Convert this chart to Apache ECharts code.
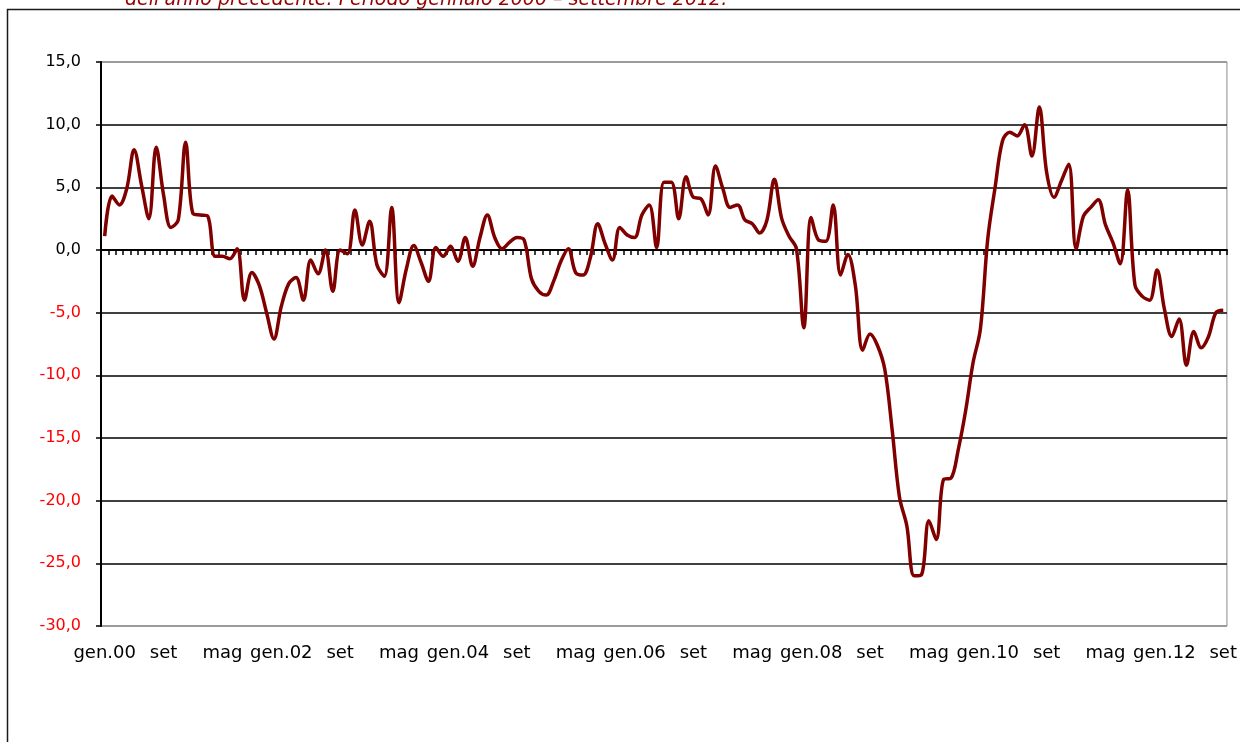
<!DOCTYPE html>
<html>
<head>
<meta charset="utf-8">
<script src="https://cdn.jsdelivr.net/npm/echarts@6/dist/echarts.min.js"></script>
<style>
  html, body { margin: 0; padding: 0; background: #fff; }
  #chart { width: 1240px; height: 742px; }
</style>
</head>
<body>
<div id="chart"></div>
<script>
// mesi ed anni per le etichette dell'asse
const months = ['gen', 'feb', 'mar', 'apr', 'mag', 'giu', 'lug', 'ago', 'set', 'ott', 'nov', 'dic']
const years = ['00', '01', '02', '03', '04', '05', '06', '07', '08', '09', '10', '11', '12']

// variazioni % sullo stesso mese dell'anno precedente
const v2000 = [1.1, 4.3, 3.6, 4.9, 8.0, 5.2, 2.5, 8.2, 4.4, 1.8, 2.4, 8.6]
const v2001 = [2.9, 2.8, 2.7, -0.5, -0.5, -0.7, 0.1, -4.0, -1.8, -2.8, -5.0, -7.1]
const v2002 = [-4.5, -2.7, -2.2, -4.0, -0.8, -1.9, 0.0, -3.3, 0.0, -0.3, 3.2, 0.4]
const v2003 = [2.3, -1.2, -2.1, 3.4, -4.2, -1.5, 0.35, -1.0, -2.5, 0.2, -0.5, 0.3]
const v2004 = [-0.9, 1.0, -1.3, 1.0, 2.8, 1.0, 0.1, 0.6, 1.0, 0.8, -2.3, -3.3]
const v2005 = [-3.6, -2.5, -0.9, 0.1, -1.8, -2.0, -0.6, 2.1, 0.5, -0.8, 1.8, 1.2]
const v2006 = [1.0, 2.8, 3.6, 0.2, 5.4, 5.4, 2.5, 5.85, 4.2, 4.1, 2.8, 6.7]
const v2007 = [4.9, 3.4, 3.6, 2.4, 2.1, 1.35, 2.4, 5.65, 2.5, 1.1, 0.1, -6.2]
const v2008 = [2.6, 0.8, 0.7, 3.6, -2.0, -0.35, -2.8, -8.0, -6.7, -7.6, -9.5, -14.3]
const v2009 = [-19.7, -22.0, -26.0, -25.9, -21.6, -23.1, -18.3, -18.2, -15.9, -12.8, -9.0, -6.3]
const v2010 = [0.9, 5.0, 8.7, 9.4, 9.1, 10.0, 7.5, 11.4, 6.2, 4.2, 5.5, 6.85]
const v2011 = [0.1, 2.7, 3.4, 4.0, 2.0, 0.6, -1.1, 4.8, -2.8, -3.7, -4.0, -1.6]
const v2012 = [-4.7, -6.9, -5.5, -9.2, -6.5, -7.8, -6.9, -5.0, -4.8]

const values = [].concat(v2000, v2001, v2002, v2003, v2004, v2005, v2006,
  v2007, v2008, v2009, v2010, v2011, v2012)

// gen.00, feb, mar ... set (2012)
const categories = []
years.forEach(y => {
  months.forEach(m => {
    if (categories.length < values.length) {
      categories.push(m === 'gen' ? 'gen.' + y : m)
    }
  })
})

const font = 'DejaVu Sans, Verdana, sans-serif'
const chart = echarts.init(document.getElementById('chart'))

chart.setOption({
  animation: false,
  backgroundColor: '#fff',
  grid: {
    left: 101, right: 12, top: 62, bottom: 116,
    show: true, borderColor: '#8c8c8c', borderWidth: 1
  },
  graphic: [
    {
      type: 'rect',
      shape: { x: 7.5, y: 9.5, width: 1300, height: 800 },
      style: { fill: null, stroke: '#1a1a1a', lineWidth: 1.5 },
      silent: true
    },
    {
      type: 'text',
      left: 125, top: -9,
      style: {
        text: "dell'anno precedente. Periodo gennaio 2000 \u2013 settembre 2012.",
        font: 'italic 19px ' + font,
        fill: '#990000'
      }
    }
  ],
  xAxis: [
    {
      type: 'category',
      data: categories,
      axisLine: { show: false, onZero: false },
      axisTick: { show: false },
      axisLabel: {
        interval: 7, margin: 18,
        color: '#000', fontSize: 18, fontFamily: font
      },
      splitLine: { show: false }
    },
    {
      type: 'category',
      data: categories,
      position: 'bottom',
      axisLine: { onZero: true, lineStyle: { color: '#000', width: 2 } },
      axisTick: { show: true, interval: 0, length: 5, lineStyle: { color: '#000', width: 1.5 } },
      axisLabel: { show: false },
      splitLine: { show: false }
    }
  ],
  yAxis: {
    type: 'value',
    min: -30, max: 15, interval: 5,
    axisLine: { show: true, lineStyle: { color: '#000', width: 2 } },
    axisTick: { show: true, length: 5, lineStyle: { color: '#000', width: 1.5 } },
    axisLabel: {
      margin: 20, fontSize: 16, fontFamily: font,
      formatter: v => v.toFixed(1).replace('.', ','),
      color: v => (Number(v) < 0 ? '#ff0000' : '#000')
    },
    splitLine: {
      lineStyle: {
        color: ['#8c8c8c', '#000', '#000', '#000', '#000', '#000', '#000', '#000', '#000', '#8c8c8c'],
        width: 1.5
      }
    }
  },
  series: [{
    type: 'line',
    data: values,
    xAxisIndex: 0,
    smooth: 0.35,
    symbol: 'none',
    lineStyle: { color: '#800000', width: 3.5 },
    z: 5
  }]
})
</script>
</body>
</html>
